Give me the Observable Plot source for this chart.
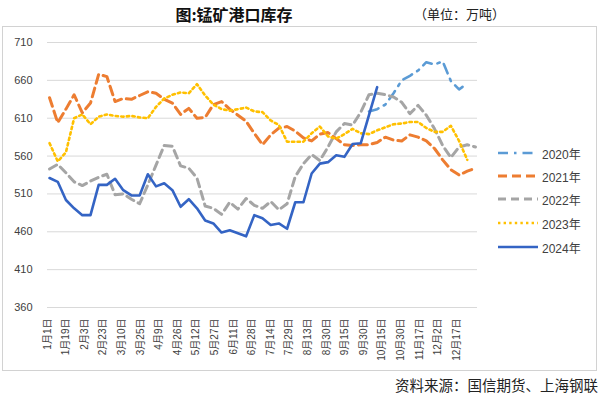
<!DOCTYPE html>
<html><head><meta charset="utf-8">
<script src="https://cdn.jsdelivr.net/npm/d3@7"></script>
<script src="https://cdn.jsdelivr.net/npm/@observablehq/plot@0.6"></script>
<style>
html,body{margin:0;padding:0;background:#fff;}
#root{position:relative;width:600px;height:396px;overflow:hidden;font-family:"Noto Sans CJK SC",sans-serif;}
.frame{position:absolute;left:2px;top:26px;width:595px;height:345px;border:1px solid #d2d2d2;box-sizing:border-box;}
#title{position:absolute;top:2px;left:134px;width:200px;text-align:center;font-size:16px;font-weight:bold;color:#111;line-height:24px;}
#unit{position:absolute;top:3px;left:414px;font-size:13px;color:#222;line-height:22px;}
#source{position:absolute;right:2px;top:375px;font-size:14.5px;color:#222;line-height:20px;}
#plot{position:absolute;left:0;top:28px;}
.leg{position:absolute;left:497px;height:16px;display:flex;align-items:center;font-size:12px;color:#404040;font-family:"Liberation Sans","Noto Sans CJK SC",sans-serif;}
.leg svg{margin-right:3px;}
</style></head>
<body>
<div id="root">
  <div class="frame"></div>
  <div id="title">图:锰矿港口库存</div>
  <div id="unit">（单位：万吨）</div>
  <div id="plot"></div>
  <div id="legend"></div>
  <div id="source">资料来源：国信期货、上海钢联</div>
</div>
<script>
// ---- data (weekly points, index = week position on the category axis) ----
const xLabels = ["1月1日","1月19日","2月3日","2月23日","3月10日","3月25日","4月9日","4月26日","5月12日","5月27日","6月11日","6月28日","7月14日","7月29日","8月13日","8月30日","9月15日","9月30日","10月15日","10月30日","11月17日","12月2日","12月17日"];
const yTicks = [360,410,460,510,560,610,660,710];
const seriesNames = ["2020年","2021年","2022年","2023年","2024年"];

const v2020 = [null,null,null,null,null,null,null,null,null,null,
  null,null,null,null,null,null,null,null,null,null,
  null,null,null,null,null,null,null,null,null,null,
  null,null,null,null,null,null,null,null,null,619,
  622,628,643,660,666,673,684,681,685,659,
  648,656];
const v2021 = [637,604,622,641,617,630,668,665,632,636,
  635,640,645,643,635,630,615,623,610,611,
  628,632,622,614,606,590,575,588,597,599,
  593,584,580,589,591,583,575,574,575,575,
  578,585,581,580,588,585,580,570,555,542,
  535,540,544];
const v2022 = [543,549,538,526,521,527,532,536,509,510,
  503,497,522,548,574,573,547,544,531,494,
  491,483,499,490,504,495,491,500,489,497,
  533,550,562,554,572,592,603,601,618,641,
  643,641,638,631,616,627,614,596,574,558,
  572,575,572];
const v2023 = [577,553,565,610,615,602,612,615,613,612,
  613,611,610,625,636,641,644,643,655,640,
  628,622,620,622,624,619,618,607,601,579,
  579,579,590,599,586,583,589,596,590,589,
  594,598,602,603,605,605,597,592,592,600,
  580,555];
const v2024 = [531,526,502,491,482,482,522,522,530,515,
  508,508,536,520,524,515,493,503,491,475,
  471,459,462,458,454,482,478,469,471,464,
  499,499,537,550,552,561,559,576,577,614,
  651];

// ---- styles ----
const styles = [
  {color:"#5B9BD5", width:2.6, dash:"10,6,2.5,6"},
  {color:"#ED7D31", width:3,   dash:"9,5"},
  {color:"#A5A5A5", width:3,   dash:"8,5"},
  {color:"#FFC000", width:2.6, dash:"2.4,3.2"},
  {color:"#3464C4", width:2.6, dash:null}
];
const allValues = [v2020, v2021, v2022, v2023, v2024];

const LABEL_STEP = 2.27;   // weeks between shown category labels
const tickPos = xLabels.map((_, j) => j * LABEL_STEP - 0.25);
const labelAt = new Map(tickPos.map((p, j) => [p, xLabels[j]]));

const toRows = vals => vals.map((v, i) => ({w: i, v})).filter(d => d.v != null);

const plot = Plot.plot({
  width: 600, height: 343,
  marginLeft: 47, marginRight: 123, marginTop: 14, marginBottom: 64,
  style: {background: "transparent", fontFamily: "'Liberation Sans','Noto Sans CJK SC',sans-serif", color: "#404040"},
  x: {domain: [-0.25, 52.25], label: null},
  y: {domain: [360, 710], label: null},
  marks: [
    Plot.ruleY(yTicks, {stroke: "#d9d9d9", strokeWidth: 1}),
    Plot.axisY(yTicks, {tickSize: 0, tickPadding: 15, fontSize: 11, label: null}),
    Plot.axisX(tickPos, {tickSize: 0, tickPadding: 11, tickRotate: -90, fontSize: 10, label: null,
      tickFormat: d => labelAt.get(d)}),
    ...allValues.map((vals, k) => Plot.line(toRows(vals), {
      x: "w", y: "v", stroke: styles[k].color, strokeWidth: styles[k].width,
      strokeDasharray: styles[k].dash || undefined, strokeLinejoin: "round"
    }))
  ]
});
document.getElementById("plot").appendChild(plot);

// ---- legend ----
const legendTops = [145, 168, 191, 215, 239];
const legend = document.getElementById("legend");
seriesNames.forEach((name, k) => {
  const s = styles[k];
  const div = document.createElement("div");
  div.className = "leg";
  div.style.top = legendTops[k] + "px";
  div.innerHTML = `<svg width="42" height="16"><line x1="1" x2="41" y1="8" y2="8" stroke="${s.color}" stroke-width="${s.width}" ${s.dash ? `stroke-dasharray="${s.dash}"` : ""}/></svg><span>${name}</span>`;
  legend.appendChild(div);
});
</script>
</body></html>
